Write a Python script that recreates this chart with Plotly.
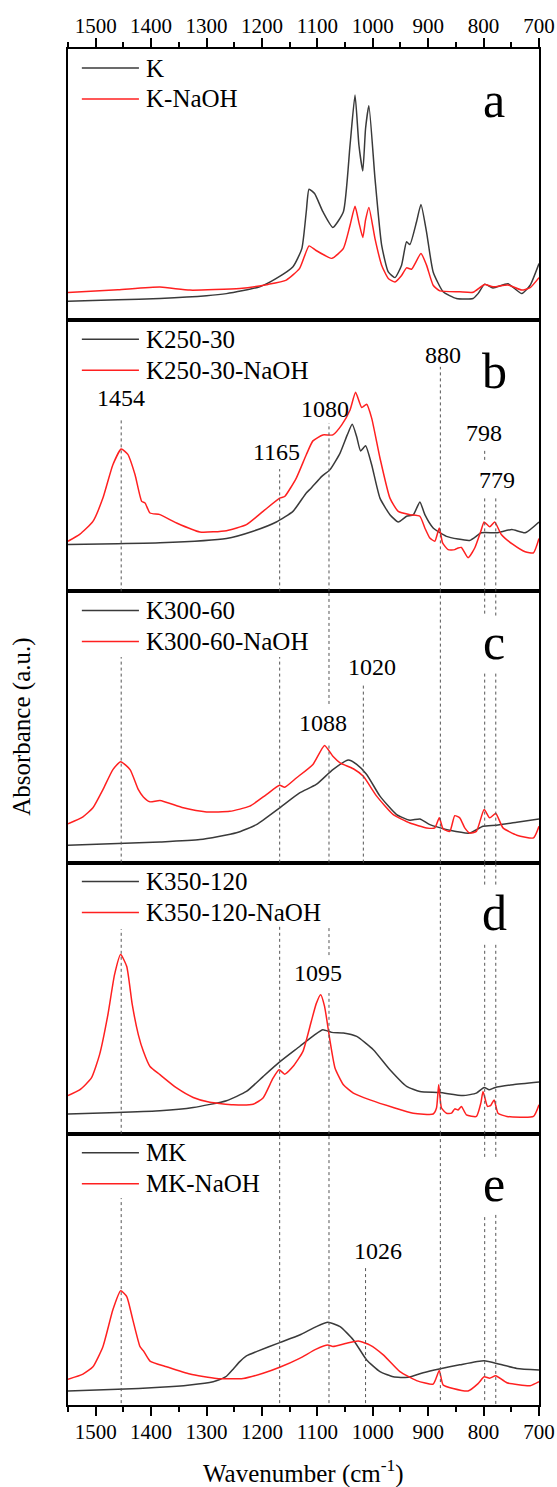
import plotly.graph_objects as go
from plotly.subplots import make_subplots

FONT = "Liberation Serif"
BLACK = "#3a3a3a"
RED = "#ff2020"

# ---------------- data ----------------
# panel a
K_wn = [1550, 1460, 1384, 1300, 1264, 1204, 1174, 1144, 1128, 1120, 1115, 1105, 1090, 1072, 1053, 1041, 1032, 1025,
        1018, 1013, 1007, 996, 984, 972, 960, 948, 939, 933, 921, 913, 903, 891, 873, 849, 819, 810, 798, 783, 756,
        731, 716, 700]
K_abs = [7.0, 7.5, 8.0, 9.0, 9.8, 12.3, 15.4, 19.7, 26.4, 40, 48.3, 46.7, 40, 34.2, 40, 64.6, 83, 64.6,
         55, 70.7, 79.1, 52.3, 27.7, 17.8, 15.7, 20.3, 28.9, 27.9, 36.3, 42.7, 32.6, 17.8, 10.5, 8, 8, 9.8, 13.3, 11.9,
         13.4, 9.8, 12.9, 20.9]
KN_wn = [1550, 1460, 1384, 1330, 1240, 1189, 1156, 1132, 1115, 1103, 1074, 1053, 1041, 1032, 1025, 1018, 1013, 1007,
         996, 984, 972, 960, 948, 939, 930, 913, 903, 891, 879, 843, 819, 798, 783, 756, 731, 716, 700]
KN_abs = [10.2, 11.2, 12.2, 11.1, 11.7, 13.2, 14.8, 19.1, 27.4, 25.8, 22.8, 26.5, 35, 42, 36, 30.5, 37, 41.6,
          30.1, 20.3, 15.4, 14.1, 16.5, 19.3, 18.8, 24.6, 20.3, 12.9, 10.8, 10.5, 10.3, 13.2, 12.3, 13.0, 11.1, 12.0,
          15.7]

# panel b
K250_wn = [1550, 1460, 1384, 1264, 1216, 1174, 1144, 1120, 1111, 1092, 1077, 1059, 1046, 1037, 1029, 1022, 1013,
           1002, 987, 969, 954, 939, 927, 915, 906, 891, 867, 825, 804, 777, 749, 725, 700]
K250_abs = [17.3, 17.6, 17.9, 19.5, 22.2, 25.6, 29.5, 36.3, 38.1, 42.4, 44.9, 51, 57.7, 61.6, 57, 51.8, 53.7,
            46.7, 34.4, 28.3, 25.6, 27.7, 28.2, 33, 28.3, 23.4, 20.3, 18.8, 21.6, 21.6, 22.8, 21.6, 25.6]
K250N_wn = [1550, 1529, 1505, 1487, 1469, 1454, 1442, 1429, 1417, 1411, 1402, 1384, 1354, 1312, 1264, 1228, 1198,
            1168, 1159, 1138, 1120, 1108, 1090, 1072, 1056, 1041, 1031, 1020, 1011, 1002, 987, 969, 954, 933, 915,
            906, 897, 888, 880, 874, 864, 852, 846, 840, 828, 816, 805, 799, 789, 780, 768, 747, 725, 710, 700]
K250N_abs = [18.5, 21, 25.8, 34.4, 46.7, 52.5, 50.5, 43, 33.2, 32.6, 28.9, 28.3, 25.2, 21.9, 22.4, 24.6, 29.5,
             34.4, 35, 41.8, 50.4, 55.5, 57.7, 57.7, 61.4, 66.9, 73.4, 67.8, 69, 63.9, 49.2, 34.4, 29.5, 28.3, 27.7,
             23.4, 19.7, 18.5, 23.4, 17.9, 15.4, 15.4, 16, 16.2, 12.4, 16, 22.2, 25.6, 23.8, 25.6, 21, 17.3, 14.6,
             14.2, 19.5]

# panel c
K300_wn = [1550, 1460, 1384, 1312, 1246, 1210, 1168, 1132, 1102, 1072, 1044, 1029, 1011, 987, 957, 933, 915, 897,
           861, 825, 801, 777, 740, 700]
K300_abs = [6.4, 7.0, 7.6, 8.5, 11, 14, 20.2, 25.7, 28.8, 34.3, 37.8, 36.2, 32.5, 24.5, 17.7, 15.6, 16.1, 14,
            11.9, 10.9, 13.4, 13.8, 14.9, 16.1]
K300N_wn = [1550, 1523, 1505, 1487, 1469, 1455, 1438, 1423, 1414, 1402, 1384, 1342, 1300, 1258, 1222, 1192, 1168,
            1159, 1138, 1108, 1087, 1072, 1059, 1035, 1017, 993, 963, 933, 903, 888, 880, 873, 861, 852, 843, 834,
            825, 813, 799, 789, 778, 765, 740, 710, 700]
K300N_abs = [14.3, 16.9, 20.2, 26.9, 34.3, 37.2, 34.3, 26.9, 24.2, 22.4, 22.9, 20.2, 18.7, 18.9, 20.8, 25.1, 28.5,
             27.8, 31.2, 36.2, 43.2, 39.2, 36.8, 34.6, 31.8, 24.5, 17.7, 14.6, 12.8, 12.8, 16.5, 12.4, 11.5, 17.3,
             16.5, 12.8, 10.9, 11.5, 19.6, 16.5, 18.1, 12.8, 10.1, 9.1, 13.4]

# panel d
K350_wn = [1550, 1460, 1384, 1324, 1264, 1228, 1198, 1168, 1132, 1105, 1090, 1074, 1053, 1029, 999, 969, 939, 915,
           879, 837, 813, 799, 790, 780, 747, 700]
K350_abs = [7.3, 7.9, 8.5, 9.7, 12.2, 15.6, 21.1, 26.5, 32.2, 36.5, 38.4, 37.4, 37.2, 35.9, 31, 23.6, 17.5, 15.6,
            15.2, 14.1, 15.0, 17.1, 16.2, 17.0, 18.1, 19.1]
K350N_wn = [1550, 1529, 1508, 1493, 1478, 1466, 1455, 1444, 1434, 1423, 1414, 1402, 1384, 1354, 1324, 1294, 1252,
            1216, 1198, 1180, 1169, 1159, 1144, 1126, 1111, 1102, 1094, 1087, 1077, 1068, 1053, 1035, 1005, 963, 927,
            891, 885, 881, 876, 867, 858, 852, 846, 840, 831, 813, 805, 801, 793, 787, 781, 774, 758, 710, 700]
K350N_abs = [14.1, 16.2, 20.5, 29.2, 43.9, 58.7, 66.1, 61.7, 47.6, 36.5, 30.4, 24.8, 21.8, 16.9, 13.4, 11.6, 10.7,
             10.9, 13.2, 20.5, 23.6, 22, 24.8, 30.4, 41.4, 48, 51.3, 47, 34.1, 24.2, 18.1, 15, 12.5, 9.7, 7.6,
             7.3, 9.5, 18.1, 9.5, 7.6, 7.6, 9.2, 8.8, 10.1, 7, 6.4, 11.3, 15.6, 10.1, 10.5, 12.5, 7.6, 6.4, 6.4, 10.7]

# panel e
MK_wn = [1550, 1460, 1384, 1330, 1288, 1276, 1264, 1252, 1240, 1228, 1210, 1168, 1132, 1102, 1081, 1059, 1035, 1011,
         987, 963, 936, 909, 880, 843, 799, 771, 740, 700]
MK_abs = [5.2, 5.8, 6.5, 7.4, 8.6, 9.4, 10.6, 13.2, 16, 18.1, 19.7, 23, 25.8, 28.9, 30.5, 28.9, 24, 16.6,
          12.3, 10.4, 10.2, 11.9, 13.3, 14.8, 16.3, 15, 13.5, 12.9]
MKN_wn = [1550, 1523, 1505, 1487, 1469, 1455, 1444, 1433, 1420, 1414, 1402, 1372, 1330, 1282, 1234, 1198, 1168,
          1132, 1102, 1081, 1072, 1047, 1026, 1005, 981, 951, 921, 891, 880, 873, 855, 828, 810, 799, 789, 778, 758,
          716, 700]
MKN_abs = [9.5, 11.4, 14.1, 21.5, 35.1, 42.1, 40, 31.4, 21.5, 20, 16.2, 14.1, 11.4, 9.8, 9.8, 11.7, 13.9,
           17.2, 20.6, 22.1, 21.6, 22.8, 23.6, 22.1, 18.5, 12.3, 9, 7.7, 12.7, 7.4, 6.1, 5.2, 7.9, 10.4, 9.9, 10.8,
           8.2, 7.1, 8.6]

series_names = [("K", "K-NaOH"), ("K250-30", "K250-30-NaOH"), ("K300-60", "K300-60-NaOH"),
                ("K350-120", "K350-120-NaOH"), ("MK", "MK-NaOH")]
panel_letters = ["a", "b", "c", "d", "e"]
x_ticks = [1500, 1400, 1300, 1200, 1100, 1000, 900, 800, 700]

# guide lines: (wavenumber, row, domain start, domain end)
guide_lines = [
    (1454, 2, 0.0, 0.639), (1454, 3, 0.0, 0.758), (1454, 4, 0.0, 0.755), (1454, 5, 0.007, 0.763),
    (1168, 2, 0.0, 0.451), (1168, 3, 0.0, 0.758), (1168, 4, 0.0, 0.763), (1168, 5, 0.007, 1.0),
    (1079, 2, 0.0, 0.621), (1079, 3, 0.585, 1.0), (1079, 3, 0.0, 0.441), (1079, 4, 0.659, 0.763),
    (1079, 4, 0.0, 0.519), (1079, 5, 0.007, 1.0),
    (1017, 3, 0.0, 0.659),
    (1013, 5, 0.007, 0.505),
    (878, 2, 0.0, 0.828), (878, 3, 0.0, 1.0), (878, 4, 0.0, 1.0), (878, 5, 0.018, 1.0),
    (798, 2, 0.485, 0.522), (798, 2, 0.0, 0.344), (798, 3, 0.918, 1.0), (798, 3, 0.0, 0.703),
    (798, 4, 0.919, 1.0), (798, 4, 0.0, 0.704), (798, 5, 0.915, 1.0), (798, 5, 0.018, 0.697),
    (778, 2, 0.0, 0.348), (778, 3, 0.911, 1.0), (778, 3, 0.0, 0.703), (778, 4, 0.919, 1.0),
    (778, 4, 0.0, 0.704), (778, 5, 0.915, 1.0), (778, 5, 0.004, 0.708),
]
# peak labels: (text, x position, row, domain y of text bottom)
peak_labels = [
    ("1454", 1454, 2, 0.658), ("1165", 1173, 2, 0.458), ("1080", 1087, 2, 0.618), ("880", 873, 2, 0.815),
    ("798", 800, 2, 0.527), ("779", 775, 2, 0.357), ("1020", 1001, 3, 0.665), ("1088", 1089, 3, 0.458),
    ("1095", 1099, 4, 0.536), ("1026", 990, 5, 0.514),
]

data = [(K_wn, K_abs, KN_wn, KN_abs), (K250_wn, K250_abs, K250N_wn, K250N_abs),
        (K300_wn, K300_abs, K300N_wn, K300N_abs), (K350_wn, K350_abs, K350N_wn, K350N_abs),
        (MK_wn, MK_abs, MKN_wn, MKN_abs)]


def sfx(i):
    return "" if i == 1 else str(i)


fig = make_subplots(rows=5, cols=1, shared_xaxes=False, vertical_spacing=0)

line_style_b = dict(color=BLACK, width=1.5, shape="spline", smoothing=0.5)
line_style_r = dict(color=RED, width=1.5, shape="spline", smoothing=0.5)

for i, (bw, ba, rw, ra) in enumerate(data, start=1):
    nb, nr = series_names[i - 1]
    fig.add_trace(go.Scatter(x=bw, y=ba, mode="lines", name=nb, line=line_style_b, showlegend=False),
                  row=i, col=1)
    fig.add_trace(go.Scatter(x=rw, y=ra, mode="lines", name=nr, line=line_style_r, showlegend=False),
                  row=i, col=1)

shapes = []
annotations = []

for wn, row, f0, f1 in guide_lines:
    shapes.append(dict(type="line", xref=f"x{sfx(row)}", yref=f"y{sfx(row)} domain", x0=wn, x1=wn, y0=f0, y1=f1,
                       line=dict(color="#555555", width=1, dash="3px,3px")))

for text, xpos, row, fy in peak_labels:
    annotations.append(dict(text=text, xref=f"x{sfx(row)}", yref=f"y{sfx(row)} domain", x=xpos, y=fy,
                            xanchor="center", yanchor="bottom", showarrow=False,
                            font=dict(family=FONT, size=24, color="black")))

# legends (drawn per panel) and panel letters
LEG_X0, LEG_X1, LEG_TX = 1525, 1422, 1412
for i in range(1, 6):
    nb, nr = series_names[i - 1]
    for name, color, fy in ((nb, BLACK, 1 - 19 / 271.2), (nr, RED, 1 - 50 / 271.2)):
        shapes.append(dict(type="line", xref=f"x{sfx(i)}", yref=f"y{sfx(i)} domain", x0=LEG_X0, x1=LEG_X1,
                           y0=fy, y1=fy, line=dict(color=color, width=1.5)))
        annotations.append(dict(text=name, xref=f"x{sfx(i)}", yref=f"y{sfx(i)} domain", x=LEG_TX, y=fy,
                                xanchor="left", yanchor="middle", showarrow=False,
                                font=dict(family=FONT, size=25, color="black")))
    annotations.append(dict(text=panel_letters[i - 1], xref=f"x{sfx(i)}", yref=f"y{sfx(i)} domain", x=781,
                            y=0.703, xanchor="center", yanchor="bottom", showarrow=False,
                            font=dict(family=FONT, size=50, color="black")))

annotations.append(dict(text="Absorbance (a.u.)", xref="paper", yref="paper", x=-0.098, y=0.5,
                        xanchor="center", yanchor="middle", textangle=-90, showarrow=False,
                        font=dict(family=FONT, size=25, color="black")))
annotations.append(dict(text="Wavenumber (cm<sup>-1</sup>)", xref="paper", yref="paper", x=0.5, y=-0.049,
                        xanchor="center", yanchor="middle", showarrow=False,
                        font=dict(family=FONT, size=25, color="black")))

axis_common = dict(range=[1550, 700], showline=True, linecolor="black", linewidth=1.5, mirror=True,
                   showgrid=False, zeroline=False, tickvals=x_ticks, automargin=False,
                   tickfont=dict(family=FONT, size=21, color="black"))
for i in range(1, 6):
    xa = dict(axis_common)
    if i == 1:
        xa.update(side="top", ticks="outside", ticklen=9, tickwidth=1.5, tickcolor="black", showticklabels=True,
                  ticklabelstandoff=-3,
                  minor=dict(dtick=50, tick0=0, ticks="outside", ticklen=5, tickwidth=1.5, tickcolor="black"))
    elif i == 5:
        xa.update(side="bottom", ticks="outside", ticklen=9, tickwidth=1.5, tickcolor="black",
                  showticklabels=True, ticklabelstandoff=-2,
                  minor=dict(dtick=50, tick0=0, ticks="outside", ticklen=5, tickwidth=1.5, tickcolor="black"))
    else:
        xa.update(ticks="", showticklabels=False)
    if i > 1:
        xa["matches"] = "x"
    fig.update_xaxes(row=i, col=1, **xa)
    fig.update_yaxes(row=i, col=1, range=[0, 100], showline=True, linecolor="black", linewidth=1.5, mirror=True,
                     showgrid=False, zeroline=False, ticks="", showticklabels=False, automargin=False)

fig.update_layout(width=557, height=1487, margin=dict(l=68, r=18, t=49, b=82, autoexpand=False),
                  paper_bgcolor="white", plot_bgcolor="white", shapes=shapes, annotations=annotations,
                  showlegend=False, font=dict(family=FONT, color="black"))

fig.write_html("out.html")
